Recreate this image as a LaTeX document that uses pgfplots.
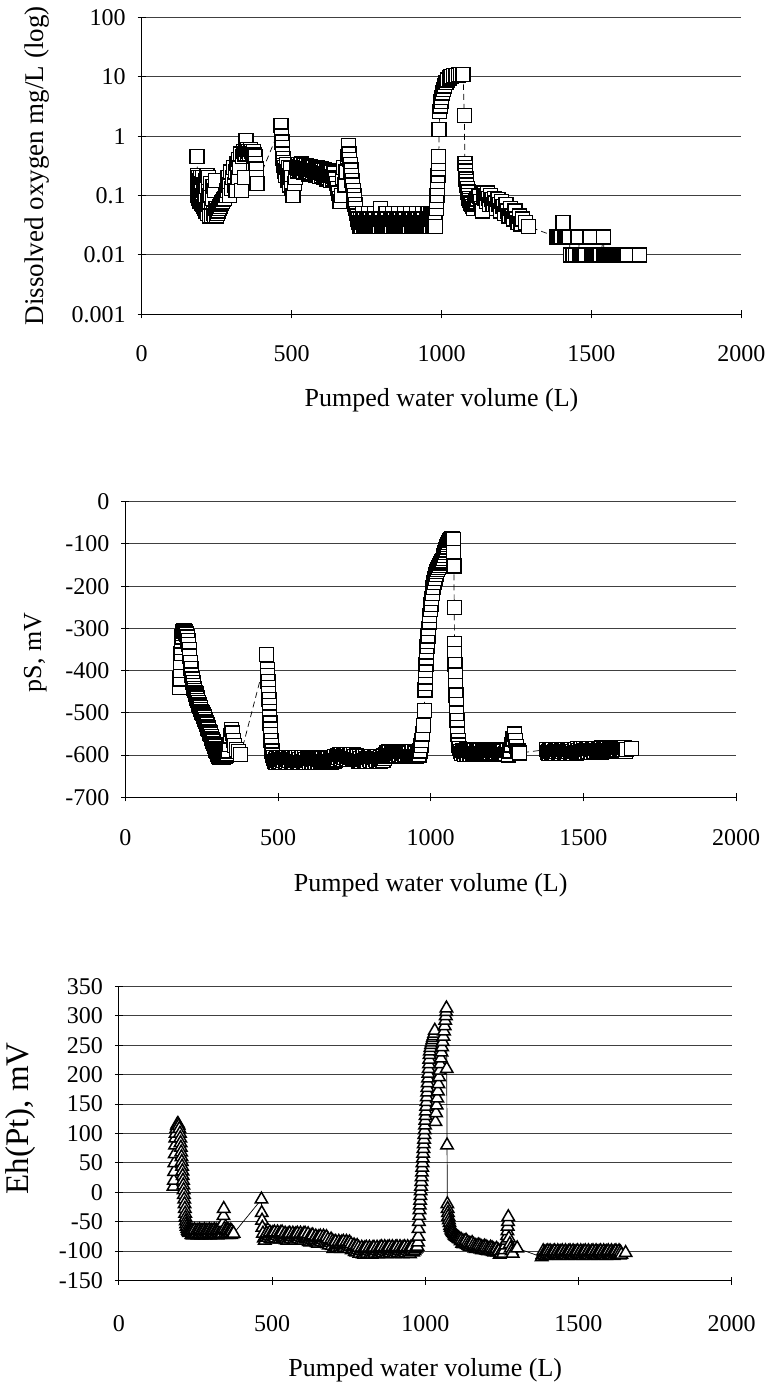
\documentclass[border=0pt]{standalone}
\usepackage{pgfplots}
\pgfplotsset{compat=1.18}
\usepackage{fontspec}
\setmainfont{Liberation Serif}

\pgfplotsset{
  myaxis/.style={
    scale only axis,
    anchor=south west,
    axis x line*=bottom, axis y line*=left,
    axis line style={-, line width=0.5pt, black},
    xmin=0, xmax=2000,
    xtick={0,500,1000,1500,2000},
    xticklabels={0,500,1000,1500,2000},
    ymajorgrids,
    major grid style={line width=0.5pt, black!75},
    tick style={black, line width=0.5pt},
    major tick length=4pt,
    tick align=center,
    /pgf/number format/assume math mode=true,
    tick label style={font=\fontsize{12}{14}\selectfont},
    yticklabel style={xshift=-2.5pt},
    xlabel style={font=\fontsize{13}{15}\selectfont, anchor=center},
    clip=false,
  },
  sqplot/.style={black, line width=0.35pt, densely dashed, mark=square*, mark size=3.5pt,
    mark options={solid, fill=white, draw=black, line width=0.65pt}},
  triplot/.style={black, line width=0.35pt, mark=triangle*, mark size=3.6pt,
    mark options={solid, fill=white, draw=black, line width=0.75pt}},
}

\begin{document}
\begin{tikzpicture}
\useasboundingbox (0,0) rectangle (385.5pt,-691.5pt);

% ---------------- Panel 1: dissolved oxygen ----------------
\begin{axis}[myaxis, at={(70.8pt,-157.15pt)}, width=299.9pt, height=148.5pt,
  ymode=log, ymin=0.001, ymax=100,
  ytick={0.001,0.01,0.1,1,10,100},
  yticklabels={0.001,0.01,0.1,1,10,100},
  yminorticks=false,
  xticklabel style={yshift=-10pt},
  xlabel={Pumped water volume (L)},
  xlabel style={at={(axis description cs:0.5,-0.2886)}},
  ylabel={Dissolved oxygen mg/L (log)},
  ylabel style={at={(axis description cs:-0.1744,0.5)}, anchor=center, font=\fontsize{13.5}{16}\selectfont},
]
\addplot[sqplot] coordinates {
(185,0.45)(186,0.22)(187,0.16)(188,0.1)(189,0.2)(190,0.13)(191,0.09)(192,0.18)(194,0.12)(195,0.08)
(196,0.2)(198,0.11)(199,0.075)(200,0.16)(202,0.1)(203,0.07)(204,0.2)(206,0.12)(207,0.065)(208,0.15)
(210,0.09)(211,0.06)(212,0.18)(214,0.1)(215,0.055)(216,0.14)(218,0.22)(219,0.08)(220,0.05)(222,0.12)
(224,0.2)(225,0.07)(226,0.045)(228,0.1)(230,0.16)(232,0.06)(234,0.045)(236,0.09)(238,0.14)(240,0.05)
(242,0.045)(244,0.12)(246,0.18)(248,0.06)(250,0.045)(252,0.05)(255,0.055)(258,0.06)(261,0.065)(264,0.07)
(267,0.075)(270,0.08)(273,0.085)(276,0.09)(279,0.1)(282,0.1)(285,0.12)(288,0.2)(291,0.15)(294,0.1)
(297,0.25)(300,0.13)(303,0.2)(306,0.3)(309,0.15)(312,0.25)(315,0.12)(318,0.35)(321,0.2)(324,0.4)
(327,0.3)(330,0.5)(333,0.12)(336,0.45)(339,0.55)(342,0.2)(345,0.5)(348,0.85)(351,0.6)(354,0.5)
(357,0.55)(360,0.5)(363,0.6)(366,0.55)(369,0.5)(372,0.55)(375,0.48)(378,0.45)(380,0.35)(382,0.28)
(383,0.2)(385,0.16)
(465,1.5)(467,1.0)(468,0.8)(469,0.65)(470,0.5)(471,0.42)(472,0.36)(474,0.32)(476,0.3)(478,0.26)
(480,0.22)(482,0.3)(484,0.33)(486,0.25)(488,0.18)(490,0.3)(492,0.22)(494,0.15)(496,0.29)(498,0.2)
(500,0.13)(505,0.1)(510,0.16)(514,0.2)
(518,0.3)(520,0.26)(522,0.33)(524,0.29)(526,0.27)(528,0.31)(530,0.32)(532,0.27)(534,0.34)(536,0.3)
(538,0.28)(540,0.25)(542,0.32)(544,0.29)(546,0.26)(548,0.3)(550,0.32)(552,0.25)(554,0.28)(556,0.31)
(558,0.23)(560,0.27)(562,0.31)(564,0.25)(566,0.28)(568,0.3)(570,0.24)(572,0.27)(574,0.3)(576,0.23)
(578,0.26)(580,0.29)(582,0.22)(584,0.27)(586,0.3)(588,0.23)(590,0.25)(592,0.28)(594,0.21)(596,0.25)
(598,0.28)(600,0.22)(602,0.24)(604,0.27)(606,0.2)(608,0.24)(610,0.27)(612,0.21)(614,0.23)(616,0.26)
(618,0.19)(620,0.23)(622,0.26)(624,0.2)(626,0.22)(628,0.25)(630,0.18)(632,0.22)(634,0.25)(636,0.19)
(638,0.21)(640,0.24)(642,0.24)(644,0.2)(646,0.19)
(650,0.16)(653,0.13)(656,0.11)(659,0.09)(662,0.08)(666,0.1)(670,0.2)(674,0.3)(678,0.15)(682,0.25)
(686,0.45)(689,0.7)(692,0.5)(694,0.4)(696,0.33)(698,0.27)(700,0.22)(702,0.18)(704,0.15)(706,0.12)
(708,0.1)(710,0.085)(712,0.07)(714,0.06)(716,0.05)(719,0.045)
(722,0.04)(724.5,0.035)(727,0.03)(729.5,0.04)(732,0.03)(734.5,0.035)(737,0.05)(739.5,0.03)(742,0.04)(744.5,0.03)
(747,0.035)(749.5,0.03)(752,0.04)(754.5,0.03)(757,0.05)(759.5,0.03)(762,0.04)(764.5,0.03)(767,0.035)(769.5,0.03)
(772,0.04)(774.5,0.03)(777,0.05)(779.5,0.04)(782,0.03)(784.5,0.035)(787,0.03)(789.5,0.04)(792,0.03)(794.5,0.04)
(797,0.06)(799.5,0.04)(802,0.03)(804.5,0.035)(807,0.03)(809.5,0.04)(812,0.03)(814.5,0.05)(817,0.03)(819.5,0.04)
(822,0.03)(824.5,0.035)(827,0.03)(829.5,0.04)(832,0.03)(834.5,0.04)(837,0.05)(839.5,0.03)(842,0.04)(844.5,0.03)
(847,0.035)(849.5,0.03)(852,0.04)(854.5,0.03)(857,0.05)(859.5,0.03)(862,0.04)(864.5,0.03)(867,0.035)(869.5,0.03)
(872,0.04)(874.5,0.03)(877,0.05)(879.5,0.04)(882,0.03)(884.5,0.035)(887,0.03)(889.5,0.04)(892,0.03)(894.5,0.04)
(897,0.05)(899.5,0.03)(902,0.04)(904.5,0.03)(907,0.035)(909.5,0.03)(912,0.04)(914.5,0.03)(917,0.05)(919.5,0.03)
(922,0.04)(924.5,0.03)(927,0.035)(929.5,0.03)(932,0.04)(934.5,0.03)(937,0.05)(939.5,0.04)(942,0.03)(944.5,0.035)
(947,0.03)(949.5,0.04)(952,0.03)(954.5,0.05)(957,0.03)(959.5,0.04)(962,0.03)(964.5,0.05)(967,0.04)(969.5,0.03)
(972,0.05)(975,0.03)(978,0.05)(981,0.03)
(983,0.06)(984,0.08)(985,0.1)(986,0.13)(987,0.17)(988,0.22)(989,0.28)(990,0.35)(991,0.45)(992,1.3)
(994,2.6)(996,3.2)(998,3.8)(1000,4.5)(1003,5.3)(1006,6.1)(1010,7)(1015,8)(1020,8.8)(1026,9.5)
(1032,10)(1040,10.4)(1048,10.6)(1056,10.7)(1064,10.8)(1072,10.8)(1076,2.2)
(1078,0.35)(1079,0.3)(1080,0.26)(1081,0.22)(1082,0.19)(1083,0.17)(1084,0.15)(1086,0.13)(1088,0.115)(1090,0.1)
(1092,0.09)(1094,0.082)(1097,0.075)(1100,0.07)(1103,0.065)(1106,0.06)(1109,0.07)(1112,0.075)(1115,0.08)(1118,0.085)
(1121,0.09)(1124,0.1)(1127,0.095)(1130,0.08)(1133,0.06)(1136,0.055)(1139,0.1)(1142,0.11)(1145,0.09)(1148,0.1)
(1151,0.08)(1154,0.11)(1157,0.09)(1160,0.07)(1164,0.1)(1168,0.085)(1172,0.07)(1176,0.09)(1180,0.075)(1184,0.06)
(1188,0.085)(1192,0.07)(1196,0.055)(1200,0.08)(1205,0.065)(1210,0.05)(1215,0.07)(1220,0.055)(1225,0.045)(1230,0.06)
(1235,0.045)(1240,0.04)(1245,0.055)(1250,0.04)(1255,0.035)(1260,0.045)(1265,0.033)(1270,0.04)(1280,0.035)(1290,0.03)
(1385,0.02)(1387,0.02)(1389,0.02)(1391,0.02)(1393,0.02)(1395,0.02)(1397,0.02)(1399,0.02)(1401,0.02)(1405,0.035)
(1409,0.02)(1411,0.02)(1413,0.02)(1415,0.02)(1417,0.02)(1419,0.02)(1421,0.02)(1423,0.02)(1425,0.02)
(1430,0.01)(1438,0.01)(1446,0.01)(1455,0.02)(1462,0.01)(1464,0.01)(1466,0.01)(1468,0.01)(1470,0.01)(1472,0.01)
(1474,0.01)(1476,0.01)(1478,0.01)(1480,0.01)(1495,0.02)
(1499,0.01)(1501,0.01)(1503,0.01)(1505,0.01)(1507,0.01)(1509,0.01)(1511,0.01)(1513,0.01)(1515,0.01)(1517,0.01)
(1519,0.01)(1521,0.01)(1523,0.01)(1525,0.01)(1527,0.01)(1529,0.01)(1531,0.01)(1540,0.02)
(1542,0.01)(1544,0.01)(1546,0.01)(1548,0.01)(1550,0.01)(1552,0.01)(1554,0.01)(1556,0.01)(1558,0.01)(1560,0.01)
(1562,0.01)(1564,0.01)(1566,0.01)(1568,0.01)(1570,0.01)(1572,0.01)(1574,0.01)(1576,0.01)(1578,0.01)(1580,0.01)
(1582,0.01)(1584,0.01)(1586,0.01)(1588,0.01)(1590,0.01)(1592,0.01)(1594,0.01)(1596,0.01)(1598,0.01)(1600,0.01)
(1602,0.01)(1604,0.01)(1606,0.01)(1608,0.01)(1610,0.01)(1612,0.01)(1614,0.01)(1616,0.01)(1618,0.01)(1620,0.01)
(1660,0.01)
};
\end{axis}

% ---------------- Panel 2: pS ----------------
\begin{axis}[myaxis, at={(62.7pt,-398.65pt)}, width=305.3pt, height=147.8pt,
  ymin=-700, ymax=0,
  ytick={-700,-600,-500,-400,-300,-200,-100,0},
  yticklabels={-700,-600,-500,-400,-300,-200,-100,0},
  xticklabel style={yshift=-10.5pt},
  xlabel={Pumped water volume (L)},
  xlabel style={at={(axis description cs:0.5,-0.2967)}},
  ylabel={pS, mV},
  ylabel style={at={(axis description cs:-0.1474,0.49)}, anchor=center, font=\fontsize{13}{15}\selectfont},
]
\addplot[sqplot] coordinates {
(178,-440)(179,-420)(180,-400)(181,-380)(182,-360)(183,-345)(184,-330)(185,-320)(187,-312)(189,-308)
(191,-306)(193,-306)(195,-308)(197,-310)(199,-312)(201,-315)(203,-320)(205,-328)(207,-338)(209,-350)
(211,-365)(213,-380)(215,-395)(217,-410)(219,-420)(221,-428)(223,-435)(225,-442)(227,-447)(229,-451)
(231,-455)(233,-460)(235,-465)(237,-470)(239,-475)(241,-480)(243,-484)(245,-488)(247,-492)(249,-496)
(251,-499)(253,-502)(255,-505)(257,-508)(259,-511)(261,-516)(263,-520)(265,-524)(267,-528)(269,-532)
(271,-536)(273,-540)(275,-544)(277,-548)(279,-552)(281,-556)(283,-560)(285,-564)(287,-568)(289,-572)
(291,-576)(293,-580)(295,-584)(297,-588)(299,-592)(301,-595)(303,-598)(305,-601)(307,-603)(310,-605)
(314,-606)(318,-603)(322,-606)(326,-603)(330,-600)(334,-596)(338,-590)(342,-575)(345,-555)(348,-540)
(351,-548)(354,-565)(358,-578)(363,-586)(370,-592)(378,-598)
(463,-362)(465,-398)(466,-412)(467,-426)(468,-440)(469,-454)(470,-468)(471,-482)(472,-496)(473,-510)
(474,-524)(475,-538)(476,-552)(477,-565)(478,-578)(480,-590)(482,-600)(484,-608)
(486,-606)(488.5,-615)(491,-610)(493.5,-617)(496,-608)(498.5,-613)(501,-605)(503.5,-616)
(506,-606)(508.5,-615)(511,-610)(513.5,-617)(516,-608)(518.5,-613)(521,-605)(523.5,-616)
(526,-606)(528.5,-615)(531,-610)(533.5,-617)(536,-608)(538.5,-613)(541,-605)(543.5,-616)
(546,-606)(548.5,-615)(551,-610)(553.5,-617)(556,-608)(558.5,-613)(561,-605)(563.5,-616)
(566,-606)(568.5,-615)(571,-610)(573.5,-617)(576,-608)(578.5,-613)(581,-605)(583.5,-616)
(586,-606)(588.5,-615)(591,-610)(593.5,-617)(596,-608)(598.5,-613)(601,-606)(603.5,-617)
(606,-607)(608.5,-616)(611,-611)(613.5,-618)(616,-609)(618.5,-614)(621,-606)(623.5,-617)
(626,-607)(628.5,-616)(631,-611)(633.5,-618)(636,-609)(638.5,-614)(641,-606)(643.5,-617)
(646,-607)(648.5,-616)(651,-611)(653.5,-618)(656,-609)(658.5,-614)(661,-606)(663.5,-617)
(666,-607)(668.5,-616)(671,-611)(673.5,-618)(676,-609)(678.5,-614)(681,-606)(683.5,-615)
(686,-604)(688.5,-612)(691,-603)(693.5,-610)(696,-601)(698.5,-606)(701,-598)(703.5,-609)
(706,-599)(708.5,-608)(711,-603)(713.5,-610)(716,-601)(718.5,-606)(721,-598)(723.5,-609)
(726,-599)(728.5,-608)(731,-603)(733.5,-610)(736,-601)(738.5,-606)(741,-598)(743.5,-609)
(746,-599)(748.5,-608)(751,-603)(753.5,-610)(756,-602)(758.5,-608)(761,-603)(763.5,-614)
(766,-604)(768.5,-613)(771,-608)(773.5,-615)(776,-606)(778.5,-611)(781,-603)(783.5,-614)
(786,-604)(788.5,-613)(791,-608)(793.5,-615)(796,-606)(798.5,-611)(801,-603)(803.5,-614)
(806,-604)(808.5,-613)(811,-608)(813.5,-615)(816,-606)(818.5,-611)(821,-603)(823.5,-614)
(826,-604)(828.5,-613)(831,-608)(833.5,-615)(836,-606)(838.5,-611)(841,-603)(843.5,-612)
(846,-602)(848.5,-608)(851,-599)(853.5,-604)(856,-595)(858.5,-600)(861,-592)(863.5,-603)
(866,-593)(868.5,-602)(871,-597)(873.5,-604)(876,-595)(878.5,-600)(881,-592)(883.5,-603)
(886,-593)(888.5,-602)(891,-597)(893.5,-604)(896,-595)(898.5,-600)(901,-592)(903.5,-603)
(906,-593)(908.5,-602)(911,-597)(913.5,-604)(916,-595)(918.5,-600)(921,-592)(923.5,-603)
(926,-593)(928.5,-602)(931,-597)(933.5,-604)(936,-595)(938.5,-600)(941,-592)(943.5,-603)
(946,-593)(948.5,-602)(951,-597)(953.5,-604)(956,-595)(958.5,-600)
(962,-600)(965,-590)(968,-578)(971,-565)(974,-550)(977,-530)(979,-494)(981,-446)(982,-430)(983,-415)
(984,-400)(985,-385)(986,-370)(987,-356)(988,-343)(989,-331)(991,-318)(993,-300)(995,-285)(997,-270)
(999,-256)(1001,-243)(1003,-230)(1005,-218)(1008,-203)(1011,-192)(1014,-182)(1017,-173)(1020,-166)(1023,-160)
(1026,-155)(1029,-151)(1032,-147)(1035,-143)(1038,-139)(1041,-134)(1044,-128)(1047,-121)(1050,-114)(1053,-107)
(1056,-101)(1059,-96)(1062,-92)(1066,-89)(1070,-88)(1074,-90)(1075,-120)(1076,-152)(1077,-250)(1078,-335)
(1079,-360)(1080,-385)(1081,-410)(1082,-435)(1083,-458)(1084,-480)(1085,-500)(1086,-518)(1087,-535)(1088,-550)
(1090,-565)(1092,-576)(1095,-585)(1098,-592)(1101,-596)
(1104,-589)(1106.5,-597)(1109,-593)(1111.5,-599)(1114,-590)(1116.5,-595)(1119,-588)(1121.5,-598)
(1124,-589)(1126.5,-597)(1129,-593)(1131.5,-599)(1134,-590)(1136.5,-595)(1139,-588)(1141.5,-598)
(1144,-589)(1146.5,-597)(1149,-593)(1151.5,-599)(1154,-590)(1156.5,-595)(1159,-588)(1161.5,-598)
(1164,-589)(1166.5,-597)(1169,-593)(1171.5,-599)(1174,-590)(1176.5,-595)(1179,-588)(1181.5,-598)
(1184,-589)(1186.5,-597)(1189,-593)(1191.5,-599)(1194,-590)(1196.5,-595)(1199,-588)(1201.5,-598)
(1204,-589)(1206.5,-597)(1209,-593)(1211.5,-599)(1214,-590)(1216.5,-595)(1219,-588)(1221.5,-598)
(1224,-589)(1226.5,-597)(1229,-593)(1231.5,-599)(1234,-590)(1236.5,-595)(1239,-590)(1241.5,-598)
(1245,-596)(1250,-588)(1255,-600)(1260,-590)(1265,-576)(1270,-562)(1274,-550)(1278,-566)(1282,-580)(1286,-590)
(1292,-595)
(1380,-587)(1382.5,-594)(1385,-591)(1387.5,-596)(1390,-588)(1392.5,-592)(1395,-586)(1397.5,-595)
(1400,-587)(1402.5,-594)(1405,-591)(1407.5,-596)(1410,-588)(1412.5,-592)(1415,-586)(1417.5,-595)
(1420,-587)(1422.5,-594)(1425,-591)(1427.5,-596)(1430,-588)(1432.5,-592)(1435,-586)(1437.5,-595)
(1440,-587)(1442.5,-594)(1445,-591)(1447.5,-596)(1450,-588)(1452.5,-592)(1455,-586)(1457.5,-595)
(1460,-587)(1462.5,-594)(1465,-591)(1467.5,-596)(1470,-588)(1472.5,-592)(1475,-586)(1477.5,-595)
(1480,-585)(1482.5,-592)(1485,-589)(1487.5,-594)(1490,-586)(1492.5,-590)(1495,-584)(1497.5,-593)
(1500,-585)(1502.5,-592)(1505,-589)(1507.5,-594)(1510,-586)(1512.5,-590)(1515,-584)(1517.5,-593)
(1520,-585)(1522.5,-592)(1525,-589)(1527.5,-594)(1530,-586)(1532.5,-590)(1535,-584)(1537.5,-593)
(1540,-585)(1542.5,-592)(1545,-589)(1547.5,-594)(1550,-586)(1552.5,-590)(1555,-584)(1557.5,-593)
(1560,-583)(1562.5,-590)(1565,-587)(1567.5,-592)(1570,-584)(1572.5,-588)(1575,-582)(1577.5,-591)
(1580,-583)(1582.5,-590)(1585,-587)(1587.5,-592)(1590,-584)(1592.5,-588)(1595,-582)(1597.5,-591)
(1600,-583)(1602.5,-590)(1605,-587)(1607.5,-592)(1610,-584)(1612.5,-588)(1615,-582)(1617.5,-591)
(1620,-583)(1622.5,-590)(1625,-587)(1627.5,-592)(1630,-584)(1632.5,-588)(1635,-582)(1637.5,-591)
(1640,-586)(1658,-584)
};
\end{axis}

% ---------------- Panel 3: Eh(Pt) ----------------
\begin{axis}[myaxis, at={(59.5pt,-640.25pt)}, width=306.3pt, height=147pt,
  ymin=-150, ymax=350,
  ytick={-150,-100,-50,0,50,100,150,200,250,300,350},
  yticklabels={-150,-100,-50,0,50,100,150,200,250,300,350},
  xticklabel style={yshift=-12pt},
  xlabel={Pumped water volume (L)},
  xlabel style={at={(axis description cs:0.5,-0.3044)}},
  ylabel={Eh(Pt), mV},
  ylabel style={at={(axis description cs:-0.160,0.551)}, anchor=center, font=\fontsize{16.5}{19}\selectfont},
]
\addplot[triplot] coordinates {
(178,10)(179,20)(180,35)(181,50)(182,65)(183,80)(184,92)(185,100)(187,108)(189,113)
(191,116)(193,116)(195,113)(197,108)(199,100)(200,92)(201,84)(202,76)(203,68)(204,60)
(205,52)(206,44)(207,36)(208,28)(209,20)(210,12)(211,4)(212,-4)(213,-12)(214,-20)
(215,-28)(216,-36)(217,-43)(218,-49)(219,-54)(221,-58)(223,-62)(225,-65)(227,-67)(229,-69)
(231,-66)(233,-68)(235,-66)(237,-72)(239,-65)(241,-73)(243,-66)(245,-71)(247,-64)(249,-72)
(251,-67)(253,-70)(255,-65)(257,-73)(259,-66)(261,-72)(263,-64)(265,-71)(267,-66)(269,-73)
(271,-65)(273,-70)(275,-66)(277,-72)(279,-64)(281,-73)(283,-66)(285,-71)(287,-65)(289,-72)
(291,-66)(293,-70)(295,-64)(297,-73)(299,-66)(301,-71)(303,-65)(305,-72)(307,-66)(309,-70)
(311,-64)(313,-72)(315,-66)(317,-71)(319,-65)(321,-73)(323,-66)(325,-70)(327,-64)(329,-72)
(331,-66)(333,-71)(335,-65)(337,-70)(338,-63)(340,-52)(341,-40)(342,-28)(344,-62)(346,-70)
(348,-65)(350,-72)(352,-66)(354,-71)(356,-64)(358,-72)(360,-66)(362,-70)(364,-65)(366,-72)
(368,-66)(370,-71)(374,-70)
(465,-12)(466,-35)(467,-48)(468,-60)(470,-70)(473,-78)(476,-82)(479,-76)(482,-70)(485,-77)(487.5,-72)
(490,-74)(492.5,-68)(495,-79)(497.5,-71)(500,-80)(502.5,-69)(505,-76)(507.5,-68)(510,-78)(512.5,-73)
(515,-74)(517.5,-68)(520,-79)(522.5,-71)(525,-80)(527.5,-69)(530,-76)(532.5,-68)(535,-78)(537.5,-73)
(540,-76)(542.5,-70)(545,-81)(547.5,-73)(550,-82)(552.5,-71)(555,-78)(557.5,-70)(560,-80)(562.5,-75)
(565,-76)(567.5,-70)(570,-81)(572.5,-73)(575,-82)(577.5,-71)(580,-78)(582.5,-70)(585,-80)(587.5,-75)
(590,-76)(592.5,-70)(595,-81)(597.5,-73)(600,-82)(602.5,-71)(605,-78)(607.5,-70)(610,-80)(612.5,-75)
(615,-77)(617.5,-71)(620,-84)(622.5,-76)(625,-85)(627.5,-74)(630,-81)(632.5,-73)(635,-83)(637.5,-78)
(640,-81)(642.5,-75)(645,-86)(647.5,-78)(650,-87)(652.5,-76)(655,-83)(657.5,-75)(660,-85)(662.5,-80)
(665,-81)(667.5,-75)(670,-86)(672.5,-78)(675,-87)(677.5,-76)(680,-88)(682.5,-80)(685,-90)(687.5,-85)
(690,-86)(692.5,-80)(695,-91)(697.5,-83)(700,-96)(702.5,-85)(705,-92)(707.5,-84)(710,-94)(712.5,-89)
(715,-90)(717.5,-84)(720,-95)(722.5,-87)(725,-96)(727.5,-85)(730,-92)(732.5,-84)(735,-94)(737.5,-89)
(740,-90)(742.5,-84)(745,-95)(747.5,-87)(750,-96)(752.5,-85)(755,-92)(757.5,-88)(760,-98)(762.5,-93)
(765,-96)(767.5,-90)(770,-101)(772.5,-93)(775,-102)(777.5,-91)(780,-98)(782.5,-94)(785,-104)(787.5,-99)
(790,-100)(792.5,-94)(795,-105)(797.5,-97)(800,-106)(802.5,-95)(805,-102)(807.5,-94)(810,-104)(812.5,-99)
(815,-100)(817.5,-94)(820,-105)(822.5,-97)(825,-106)(827.5,-95)(830,-102)(832.5,-94)(835,-104)(837.5,-99)
(840,-100)(842.5,-94)(845,-105)(847.5,-97)(850,-105)(852.5,-94)(855,-101)(857.5,-93)(860,-103)(862.5,-98)
(865,-99)(867.5,-93)(870,-104)(872.5,-96)(875,-105)(877.5,-94)(880,-101)(882.5,-93)(885,-103)(887.5,-98)
(890,-99)(892.5,-93)(895,-104)(897.5,-96)(900,-105)(902.5,-94)(905,-101)(907.5,-93)(910,-103)(912.5,-98)
(915,-99)(917.5,-93)(920,-104)(922.5,-96)(925,-105)(927.5,-94)(930,-101)(932.5,-93)(935,-103)(937.5,-98)
(940,-99)(942.5,-93)(945,-104)(947.5,-96)(950,-105)(952.5,-94)(955,-101)(957.5,-93)(960,-102)
(965,-100)(968,-97)(971,-95)(974,-92)(976,-85)(977,-75)(978,-62)(979,-50)(980,-40)(981,-30)
(982,-22)(983,-14)(984,-6)(985,2)(986,10)(987,18)(988,26)(989,34)(990,42)(991,50)
(992,58)(993,66)(994,74)(995,82)(996,90)(997,98)(998,106)(999,114)(1000,122)(1001,130)
(1002,138)(1003,146)(1004,154)(1005,162)(1006,170)(1007,178)(1008,186)(1009,194)(1010,202)(1011,210)
(1012,218)(1013,226)(1014,234)(1015,240)(1017,246)(1019,251)(1021,255)(1023,259)(1025,263)(1027,266)
(1029,270)(1031,275)(1033,120)(1035,135)(1037,148)(1039,160)(1041,172)(1043,184)(1045,196)(1047,207)
(1049,218)(1051,228)(1053,238)(1055,247)(1057,256)(1059,265)(1061,274)(1063,283)(1065,292)(1067,300)
(1068,307)(1069,313)(1070,210)(1071,80)(1072,-20)(1073,-28)(1074,-35)(1075,-41)(1077,-47)(1079,-52)
(1081,-57)(1083,-60)(1085,-63)(1087,-65)(1089,-67)(1091,-69)(1094,-71)(1096,-73)(1098,-74)(1100,-75)
(1103,-76)(1105,-77)(1108,-78)(1110,-79)
(1113,-80)(1115.5,-83)(1118,-81)(1120.5,-87)(1123,-83)(1125.5,-88)(1128,-84)(1130.5,-86)(1133,-82)(1135.5,-89)
(1138,-85)(1140.5,-91)(1143,-87)(1145.5,-92)(1148,-88)(1150.5,-90)(1153,-86)(1155.5,-93)(1158,-89)(1160.5,-95)
(1163,-91)(1165.5,-96)(1168,-92)(1170.5,-94)(1173,-90)(1175.5,-96)(1178,-91)(1180.5,-97)(1183,-93)(1185.5,-98)
(1188,-94)(1190.5,-96)(1193,-92)(1195.5,-98)(1198,-93)(1200.5,-99)(1203,-95)(1205.5,-100)(1208,-96)(1210.5,-98)
(1213,-94)(1215.5,-100)(1218,-95)(1220.5,-101)(1223,-97)(1225.5,-102)(1228,-98)(1230.5,-100)(1233,-96)(1235.5,-102)
(1238,-99)
(1240,-100)(1243,-106)(1246,-104)(1250,-100)(1254,-104)(1258,-98)(1262,-90)(1265,-82)(1267,-74)(1268,-66)
(1269,-58)(1270,-50)(1271,-42)(1273,-78)(1276,-88)(1279,-95)(1282,-100)(1285,-104)(1300,-95)
(1380,-110)(1382.5,-106)(1385,-100)(1387.5,-107)(1390,-102)(1392.5,-108)(1395,-101)(1397.5,-105)(1400,-100)(1402.5,-106)
(1405,-104)(1407.5,-100)(1410,-107)(1412.5,-102)(1415,-108)(1417.5,-101)(1420,-105)(1422.5,-100)(1425,-106)(1427.5,-103)
(1430,-104)(1432.5,-100)(1435,-107)(1437.5,-102)(1440,-108)(1442.5,-101)(1445,-105)(1447.5,-100)(1450,-106)(1452.5,-103)
(1455,-104)(1457.5,-100)(1460,-107)(1462.5,-102)(1465,-108)(1467.5,-101)(1470,-105)(1472.5,-100)(1475,-106)(1477.5,-103)
(1480,-104)(1482.5,-100)(1485,-107)(1487.5,-102)(1490,-108)(1492.5,-101)(1495,-105)(1497.5,-100)(1500,-106)(1502.5,-103)
(1505,-104)(1507.5,-100)(1510,-107)(1512.5,-102)(1515,-108)(1517.5,-101)(1520,-105)(1522.5,-100)(1525,-106)(1527.5,-103)
(1530,-104)(1532.5,-100)(1535,-107)(1537.5,-102)(1540,-108)(1542.5,-101)(1545,-105)(1547.5,-100)(1550,-106)(1552.5,-103)
(1555,-104)(1557.5,-100)(1560,-107)(1562.5,-102)(1565,-108)(1567.5,-101)(1570,-105)(1572.5,-100)(1575,-106)(1577.5,-103)
(1580,-104)(1582.5,-100)(1585,-107)(1587.5,-102)(1590,-108)(1592.5,-101)(1595,-105)(1597.5,-100)(1600,-106)(1602.5,-103)
(1605,-104)(1607.5,-100)(1610,-107)(1612.5,-102)(1615,-108)(1617.5,-101)(1620,-105)(1622.5,-100)(1625,-106)(1627.5,-103)
(1630,-104)(1632.5,-100)(1635,-107)(1637.5,-102)(1640,-106)(1654,-103)
};
\end{axis}
\end{tikzpicture}
\end{document}
